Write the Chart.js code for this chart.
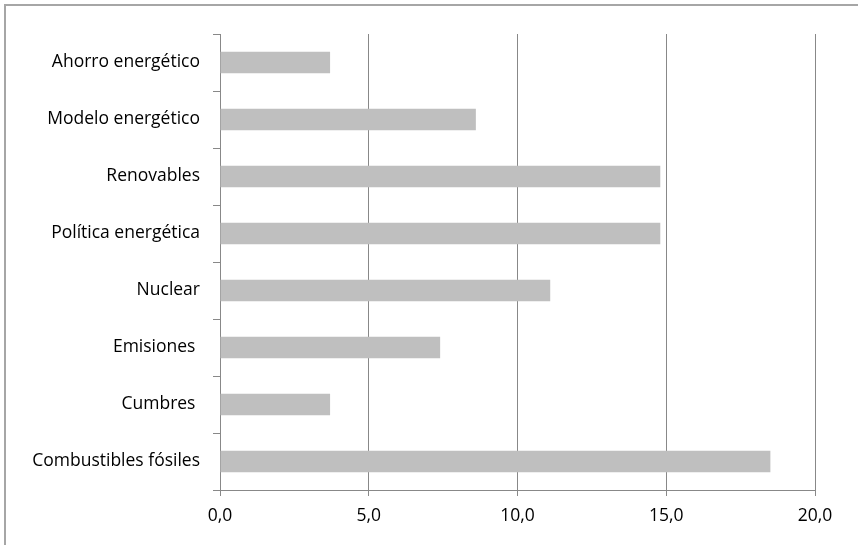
<!DOCTYPE html>
<html>
<head>
<meta charset="utf-8">
<script src="https://cdn.jsdelivr.net/npm/chart.js@4"></script>
<style>
  html, body { margin: 0; padding: 0; background: #fff; overflow: hidden; }
  #frame {
    position: absolute; left: 4px; top: 4px; width: 900px; height: 600px;
    border-left: 2px solid #a6a6a6; border-top: 2px solid #a6a6a6;
  }
  #wrap { position: absolute; left: 0; top: 0; width: 858px; height: 545px; }
</style>
</head>
<body>
<div id="frame"></div>
<div id="wrap"><canvas id="c"></canvas></div>
<script>
// Themes counted, share in %.
const categories = [
  "Ahorro energético",
  "Modelo energético",
  "Renovables",
  "Política energética",
  "Nuclear",
  "Emisiones ",
  "Cumbres ",
  "Combustibles fósiles",
];
const shares = [3.7, 8.6, 14.8, 14.8, 11.1, 7.4, 3.7, 18.5];
const xTicks = [0, 5, 10, 15, 20];

const FONT = { family: '"Open Sans", "Noto Sans", sans-serif', size: 17.5 };
const GRID = "#888888";
const BAR = "#bfbfbf";

new Chart(document.getElementById("c"), {
  type: "bar",
  data: {
    labels: categories,
    datasets: [{
      data: shares,
      backgroundColor: BAR,
      borderWidth: 0,
      barPercentage: 0.375,
      categoryPercentage: 1,
    }],
  },
  options: {
    indexAxis: "y",
    responsive: true,
    maintainAspectRatio: false,
    animation: false,
    layout: { padding: { top: 34, right: 43, bottom: 10, left: 0 } },
    plugins: { legend: { display: false }, tooltip: { enabled: false } },
    scales: {
      x: {
        min: xTicks[0],
        max: xTicks[xTicks.length - 1],
        afterBuildTicks: (s) => { s.ticks = xTicks.map((v) => ({ value: v })); },
        ticks: {
          font: FONT, color: "#000", padding: 10,
          callback: (v) => Number(v).toFixed(1).replace(".", ","),
        },
        grid: { color: GRID, lineWidth: 1, tickLength: 6 },
        border: { color: GRID, width: 1 },
        afterFit: (s) => { s.height = 45; },
      },
      y: {
        ticks: { font: FONT, color: "#000", padding: 13 },
        grid: { drawOnChartArea: false, color: GRID, tickLength: 7, offset: true },
        border: { color: GRID, width: 1 },
        afterFit: (s) => { s.width = 220; },
      },
    },
  },
});
</script>
</body>
</html>
